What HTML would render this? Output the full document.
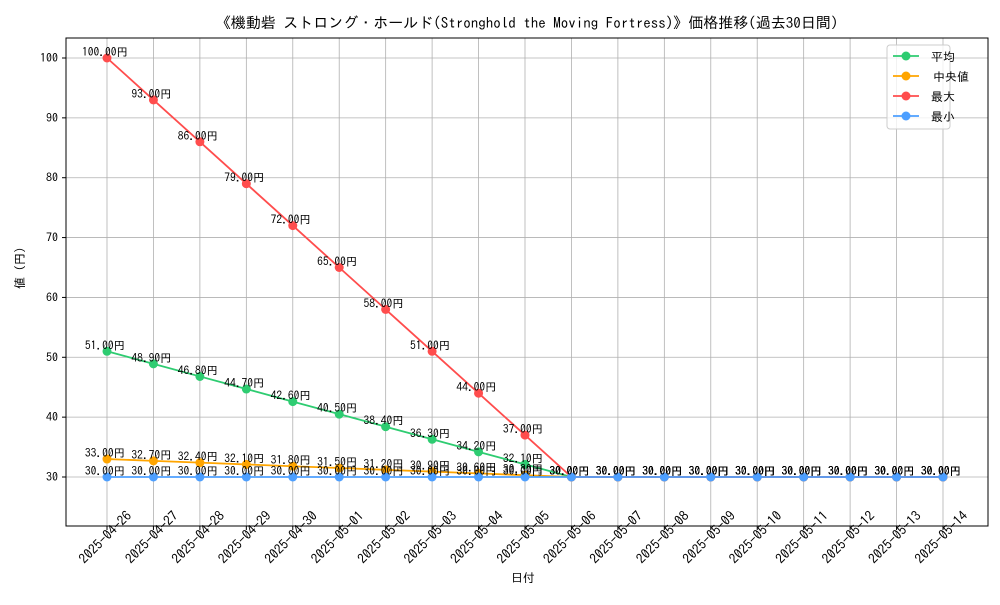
<!DOCTYPE html>
<html><head><meta charset="utf-8"><style>
body{margin:0;background:#fff;}
svg{font-family:"IPAGothic","DejaVu Sans Mono","Noto Sans CJK JP",monospace;}
</style></head><body>
<svg id="c" width="1000" height="600" xmlns="http://www.w3.org/2000/svg">
<rect width="1000" height="600" fill="#fff"/>
<text x="527" y="28" text-anchor="middle" font-size="15">《機動砦 ストロング・ホールド(Stronghold the Moving Fortress)》価格推移(過去30日間)</text>
<g id="grid"></g><g id="axes"></g><g id="series"></g>
<rect x="66" y="38" width="922" height="488" fill="none" stroke="#000" stroke-width="1"/>
<text x="523" y="582" text-anchor="middle" font-size="12">日付</text>
<text transform="translate(24,268) rotate(-90)" text-anchor="middle" font-size="12">値 (円)</text>
<g>
<rect x="887" y="45" width="63" height="84" rx="3" fill="#fff" fill-opacity="0.8" stroke="#ccc"/>
<g id="legend"></g>
</g>
</svg>
<script>
const categories=["2025-04-26","2025-04-27","2025-04-28","2025-04-29","2025-04-30","2025-05-01","2025-05-02","2025-05-03","2025-05-04","2025-05-05","2025-05-06","2025-05-07","2025-05-08","2025-05-09","2025-05-10","2025-05-11","2025-05-12","2025-05-13","2025-05-14"];
const avgValues=[51,48.9,46.8,44.7,42.6,40.5,38.4,36.3,34.2,32.1,30,30,30,30,30,30,30,30,30];
const medianValues=[33,32.7,32.4,32.1,31.8,31.5,31.2,30.9,30.6,30.3,30,30,30,30,30,30,30,30,30];
const maxValues=[100,93,86,79,72,65,58,51,44,37,30,30,30,30,30,30,30,30,30];
const minValues=[30,30,30,30,30,30,30,30,30,30,30,30,30,30,30,30,30,30,30];
const yTicks=[30,40,50,60,70,80,90,100];
const seriesNames=["平均","中央値","最大","最小"];
const NS="http://www.w3.org/2000/svg";
const x=i=>107+i*(943-107)/(categories.length-1);
const y=v=>477-(v-30)*(477-58)/70;
function mk(tag,attrs,parent){const e=document.createElementNS(NS,tag);for(const k in attrs)e.setAttribute(k,attrs[k]);parent.appendChild(e);return e;}
const grid=document.getElementById('grid'),axes=document.getElementById('axes'),ser=document.getElementById('series'),leg=document.getElementById('legend');
yTicks.forEach(v=>{
 const l=mk('line',{x1:66,x2:988,y1:y(v),y2:y(v),stroke:'#b0b0b0','stroke-width':0.8},grid);
 
 
 mk('line',{x1:62,x2:66,y1:y(v),y2:y(v),stroke:'#000'},axes);
 const t=mk('text',{x:58,y:y(v)+4,'text-anchor':'end','font-size':12},axes);t.textContent=v;
 
 
});
categories.forEach((c,i)=>{
 const l=mk('line',{x1:x(i),x2:x(i),y1:38,y2:526,stroke:'#b0b0b0','stroke-width':0.8},grid);
 
 
 mk('line',{x1:x(i),x2:x(i),y1:526,y2:530,stroke:'#000'},axes);
 const t=mk('text',{transform:`translate(${x(i)-2},${537}) rotate(-45)`,y:5,'text-anchor':'middle','font-size':13.5},axes);t.textContent=c;
 
 
});
const all=[[avgValues,'#2ecc71'],[medianValues,'#ffa500'],[maxValues,'#ff4d4d'],[minValues,'#4d9fff']];
all.forEach(([vals,col],si)=>{
 const g=mk('g',{},ser);
 
 
 const p=mk('polyline',{points:vals.map((v,i)=>x(i)+','+y(v)).join(' '),fill:'none',stroke:col,'stroke-width':1.8},g);
 
 
 vals.forEach((v,i)=>{
  const c=mk('circle',{cx:x(i),cy:y(v),r:4.5,fill:col},g);
  
  
  const t=mk('text',{x:x(i)-2,y:y(v)-2,'text-anchor':'middle','font-size':11.5},g);t.textContent=v.toFixed(2)+'円';
  
  
 });
 const ly=56+si*20;
 mk('line',{x1:893,x2:919,y1:ly,y2:ly,stroke:col,'stroke-width':1.8},leg);
 mk('circle',{cx:906,cy:ly,r:4.5,fill:col},leg);
 const t=mk('text',{x:(si==1?933:931),y:ly+5,'font-size':12},leg);t.textContent=seriesNames[si];
 
 
});
</script>
</body></html>
